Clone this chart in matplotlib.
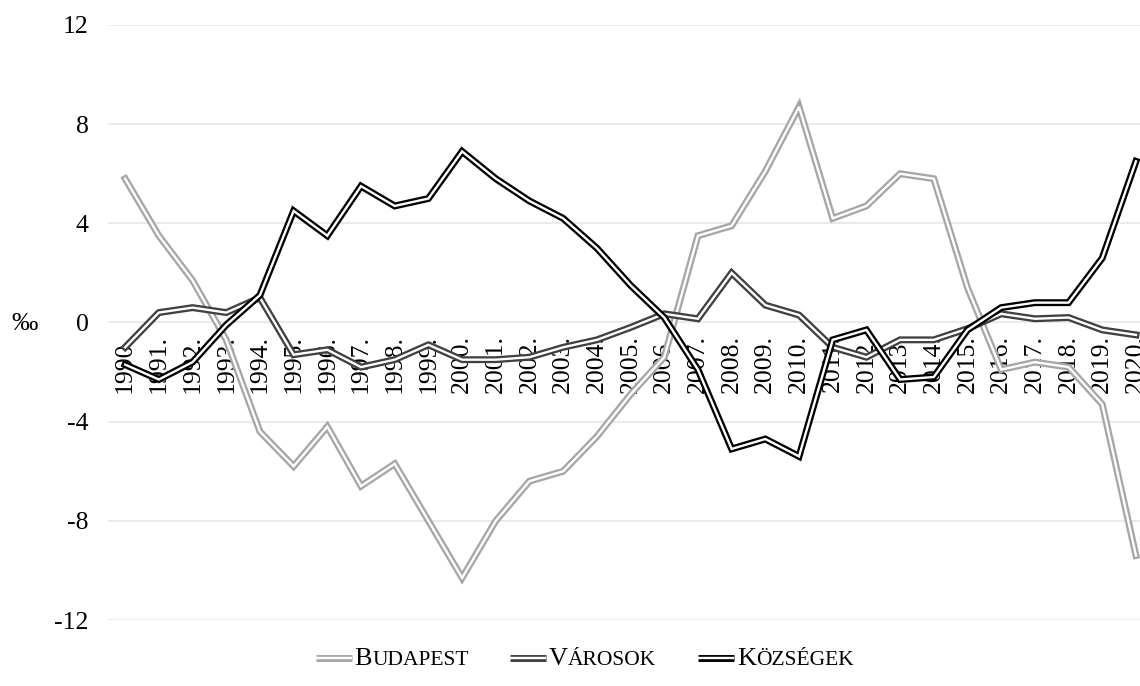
import matplotlib.pyplot as plt
from matplotlib.lines import Line2D
from matplotlib.offsetbox import AnchoredOffsetbox, DrawingArea, HPacker, TextArea

plt.rcParams['font.family'] = ['Liberation Serif', 'DejaVu Serif']

years = [f'{y}.' for y in range(1990, 2021)]

budapest = [5.8, 3.5, 1.7, -0.7, -4.4, -5.8, -4.2, -6.6, -5.7, -8.0,
            -10.3, -8.0, -6.4, -6.0, -4.6, -2.9, -1.4, 3.5, 3.9, 6.1,
            8.7, 4.2, 4.7, 6.0, 5.8, 1.4, -1.9, -1.6, -1.8, -3.3, -9.4]
varosok = [-1.0, 0.4, 0.6, 0.4, 1.0, -1.3, -1.1, -1.8, -1.5, -0.9,
           -1.5, -1.5, -1.4, -1.0, -0.7, -0.2, 0.35, 0.15, 2.0, 0.7,
           0.3, -1.0, -1.4, -0.7, -0.7, -0.25, 0.35, 0.15, 0.2, -0.3, -0.5]
kozsegek = [-1.7, -2.3, -1.6, -0.1, 1.1, 4.5, 3.5, 5.5, 4.7, 5.0,
            6.9, 5.8, 4.9, 4.2, 3.0, 1.5, 0.2, -1.9, -5.1, -4.7,
            -5.4, -0.7, -0.3, -2.3, -2.2, -0.3, 0.6, 0.8, 0.8, 2.6, 6.5]

series = [('Budapest', budapest, '#a6a6a6'),
          ('Városok', varosok, '#404040'),
          ('Községek', kozsegek, '#000000')]

OUTER, INNER = 5.0, 1.7

fig = plt.figure(figsize=(11.4, 6.86), dpi=100)
ax = fig.add_axes([0.095, 0.0962, 0.905, 0.8674])

x = list(range(len(years)))
for i, (name, vals, col) in enumerate(series):
    # double ("compound") line: thick coloured stroke with a white core
    ax.plot(x, vals, color=col, lw=OUTER, zorder=3 + 2 * i, solid_joinstyle='miter')
    ax.plot(x, vals, color='white', lw=INNER, zorder=4 + 2 * i, solid_joinstyle='miter')

ax.set_ylim(-12, 12)
ax.set_xlim(-0.5, 30.12)
ax.set_yticks(range(-12, 13, 4))
ax.set_yticklabels([str(v) for v in range(-12, 13, 4)], fontsize=18.5)
ax.yaxis.grid(True, color='#e8e8e8', lw=1.3)
ax.set_axisbelow(True)

ax.spines['bottom'].set_position(('data', 0))
for s in ax.spines.values():
    s.set_visible(False)
ax.set_xticks(x)
ax.set_xticklabels(years, rotation=90, fontsize=18.5, va='top')
ax.tick_params(axis='both', length=0)
ax.tick_params(axis='x', pad=9)
ax.tick_params(axis='y', pad=14)

fig.text(0.010, 1 - 324 / 686, '‰', fontsize=19, va='center', ha='left')

# legend in small caps
items = []
for name, vals, col in series:
    da = DrawingArea(26, 10, 0, 0)
    da.add_artist(Line2D([0, 26], [5, 5], color=col, lw=OUTER, solid_capstyle='butt'))
    da.add_artist(Line2D([0, 26], [5, 5], color='white', lw=INNER, solid_capstyle='butt'))
    items.append(da)
    items.append(HPacker(children=[
        TextArea(name[0], textprops=dict(fontsize=19)),
        TextArea(name[1:].upper(), textprops=dict(fontsize=15.5))],
        pad=0, sep=0, align='baseline'))
    items.append(DrawingArea(26, 1, 0, 0))
box = HPacker(children=items[:-1], pad=0, sep=2, align='baseline')
anchored = AnchoredOffsetbox(loc='center', child=box, frameon=False,
                             bbox_to_anchor=(0.513, 1 - 659 / 686),
                             bbox_transform=fig.transFigure, pad=0, borderpad=0)
fig.add_artist(anchored)

fig.savefig('out.png', dpi=100)
